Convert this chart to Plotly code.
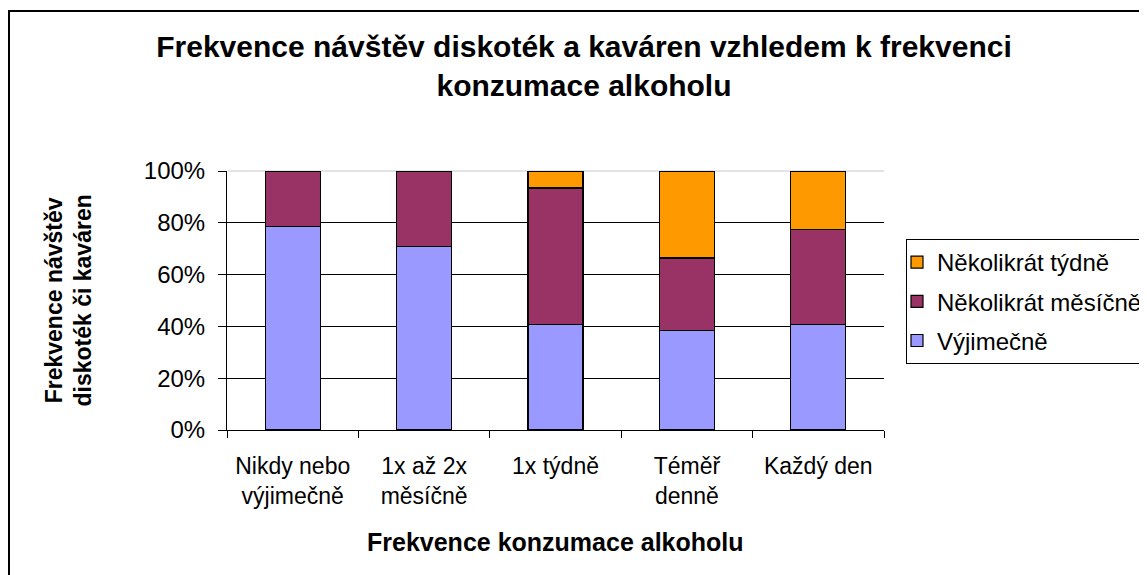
import plotly.graph_objects as go

categories = ["Nikdy nebo<br>výjimečně", "1x až 2x<br>měsíčně", "1x týdně", "Téměř<br>denně", "Každý den"]
series_names = ["Výjimečně", "Několikrát měsíčně", "Několikrát týdně"]
vyjimecne = [0.787, 0.708, 0.407, 0.385, 0.408]
mesicne = [0.213, 0.292, 0.527, 0.279, 0.365]
tydne = [0.0, 0.0, 0.066, 0.336, 0.227]
colors = ["#9999FF", "#993366", "#FF9900"]
legend_ranks = [3, 2, 1]
y_ticks = [0, 0.2, 0.4, 0.6, 0.8, 1.0]

FONT = "Liberation Sans, Arial, sans-serif"

fig = go.Figure()
for name, vals, col, rank in zip(series_names, [vyjimecne, mesicne, tydne], colors, legend_ranks):
    fig.add_trace(go.Bar(
        x=categories, y=vals, name=name, legendgroup=name, legendrank=rank,
        marker=dict(color=col, line=dict(color="black", width=1.2)),
        width=0.42,
    ))

# page body has an 8px margin; compensate so the figure lines up with the window
OFF = 8
W, H = 1147 - OFF, 575 - OFF
L, R, T, B = 227 - OFF, 884 - OFF, 171 - OFF, 430 - OFF

fig.update_layout(
    width=W, height=H,
    barmode="stack",
    plot_bgcolor="white", paper_bgcolor="white",
    margin=dict(l=L, r=W - R, t=T, b=H - B, autoexpand=False),
    font=dict(family=FONT, color="black", size=22),
    title=dict(
        text="<b>Frekvence návštěv diskoték a kaváren vzhledem k frekvenci<br>konzumace alkoholu</b>",
        font=dict(family=FONT, size=30, color="black"),
        x=(584 - OFF) / W, xanchor="center", xref="container",
        y=1 - (57 - OFF) / H, yanchor="top", yref="container",
    ),
    xaxis=dict(
        showline=True, linecolor="black", linewidth=1,
        ticks="outside", ticklen=7, tickcolor="black", tickson="boundaries",
        tickfont=dict(size=23, family=FONT, color="black"),
        ticklabelstandoff=15,
        showgrid=False,
    ),
    yaxis=dict(
        range=[0, 1], tickvals=y_ticks, tickformat=".0%",
        showline=True, linecolor="black", linewidth=1,
        ticks="outside", ticklen=8, tickcolor="black",
        showgrid=True, gridcolor="black", gridwidth=1,
        tickfont=dict(size=24, family=FONT, color="black"),
        ticklabelstandoff=8,
        zeroline=False,
    ),
    legend=dict(
        x=(906 - OFF - L) / (R - L), xanchor="left",
        y=(B - (239 - OFF)) / (B - T), yanchor="top",
        bordercolor="black", borderwidth=1, bgcolor="white",
        font=dict(size=24, family=FONT, color="black"),
        traceorder="grouped", tracegroupgap=5, indentation=-10,
    ),
    annotations=[
        dict(text="<b>Frekvence návštěv<br>diskoték či kaváren</b>", textangle=-90,
             xref="paper", yref="paper", x=0, y=0.5, xanchor="center", yanchor="middle",
             xshift=68 - 227, showarrow=False, font=dict(size=23, family=FONT, color="black")),
        dict(text="<b>Frekvence konzumace alkoholu</b>",
             xref="paper", yref="paper", x=0.5, y=0, xanchor="center", yanchor="middle",
             yshift=-(542 - 430), showarrow=False, font=dict(size=25, family=FONT, color="black")),
    ],
    shapes=[
        dict(type="rect", xref="paper", yref="paper",
             x0=(9 - OFF - L) / (R - L), x1=(W + 20 - L) / (R - L),
             y0=(B - (H + 20)) / (B - T), y1=(B - (11 - OFF)) / (B - T),
             line=dict(color="black", width=2), fillcolor="rgba(0,0,0,0)", layer="below"),
        dict(type="line", xref="paper", yref="paper", x0=0.002, x1=1, y0=1, y1=1,
             line=dict(color="#C8C8C8", width=1), layer="below"),
    ],
)

fig.write_html("out.html")
